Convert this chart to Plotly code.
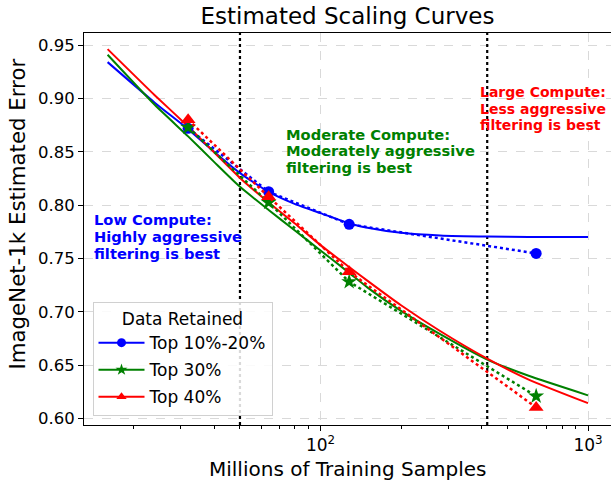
import plotly.graph_objects as go

# ---- data ----
sample_x = [32, 64, 128, 640]
top10_20_pts = [0.872, 0.8125, 0.782, 0.7547]
top30_pts = [0.8728, 0.8025, 0.7281, 0.6209]
top40_pts = [0.880, 0.8078, 0.7375, 0.6104]

curve_x = [16, 24, 32, 40, 50, 64, 80, 100, 128, 150, 200, 280, 420, 600, 1000]
blue_curve_y = [0.934, 0.896, 0.8712, 0.850, 0.830, 0.8124, 0.8012, 0.7925, 0.7828, 0.7788,
                0.7740, 0.7715, 0.7705, 0.7701, 0.7700]
green_curve_y = [0.9409, 0.894, 0.8644, 0.8405, 0.8171, 0.7954, 0.7764, 0.7575, 0.7365, 0.7227,
                 0.7008, 0.679, 0.6552, 0.640, 0.6217]
red_curve_y = [0.9462, 0.903, 0.8737, 0.8496, 0.8255, 0.8025, 0.783, 0.7625, 0.742, 0.729,
               0.7061, 0.682, 0.6561, 0.6365, 0.6144]

compute_bounds = [50, 420]

series_names = ["Top 10%-20%", "Top 30%", "Top 40%"]
series_colors = ["#0000ff", "#008000", "#ff0000"]
series_symbols = ["circle", "star", "triangle-up"]

y_ticks = [0.60, 0.65, 0.70, 0.75, 0.80, 0.85, 0.90, 0.95]
x_major = [100, 1000]
x_major_text = ["10<sup>2</sup>", "10<sup>3</sup>"]
x_minor = [20, 30, 40, 50, 60, 70, 80, 90, 200, 300, 400, 500, 600, 700, 800, 900]

y_range = [0.5939, 0.9613]
x_range_log = [1.1159, 3.086]

FONT = "DejaVu Sans"

fig = go.Figure()

# vertical dotted compute boundaries
for xb in compute_bounds:
    fig.add_trace(go.Scatter(x=[xb, xb], y=y_range, mode="lines",
                             line=dict(color="black", width=2.2, dash="dot"),
                             showlegend=False, hoverinfo="skip"))

curves_y = [blue_curve_y, green_curve_y, red_curve_y]
points = [top10_20_pts, top30_pts, top40_pts]
msizes = [11, 12, 13]

for i in range(3):
    fig.add_trace(go.Scatter(x=curve_x, y=curves_y[i], mode="lines",
                             line=dict(color=series_colors[i], width=2, shape="spline", smoothing=0.5),
                             showlegend=False, hoverinfo="skip"))
for i in range(3):
    fig.add_trace(go.Scatter(x=sample_x, y=points[i], mode="lines+markers",
                             line=dict(color=series_colors[i], width=2.5, dash="dot"),
                             marker=dict(symbol=series_symbols[i], size=msizes[i], color=series_colors[i],
                                         line=dict(width=0)),
                             showlegend=False))
# legend entries
for i in range(3):
    fig.add_trace(go.Scatter(x=[None], y=[None], mode="lines+markers", name=series_names[i],
                             legendgroup="g%d" % i,
                             line=dict(color=series_colors[i], width=2),
                             marker=dict(symbol=series_symbols[i], size=9, color=series_colors[i])))

L, R, T, B = 84, 0, 33, 59
W, H = 611, 484
pw, ph = W - L - R, H - T - B

def px(x):
    return (x - L) / pw

def py(y):
    return (H - B - y) / ph

annos = []
texts = [
    (["Low Compute:", "Highly aggressive", "filtering is best"], 92.7, [219.5, 236.5, 253.5], "#0000ff", 14.67),
    (["Moderate Compute:", "Moderately aggressive", "filtering is best"], 285, [134, 150.7, 167.4], "#008000", 14.67),
    (["Large Compute:", "Less aggressive", "filtering is best"], 479.3, [92, 108.7, 125.4], "#ff0000", 14.0),
]
for lines, x0, ys, col, fs in texts:
    for line, yy in zip(lines, ys):
        annos.append(dict(text="<b>" + line + "</b>", x=px(x0), y=py(yy), xref="paper", yref="paper",
                          xanchor="left", yanchor="middle", showarrow=False, borderpad=0,
                          font=dict(family=FONT, size=fs, color=col)))

# axis titles
annos.append(dict(text="Millions of Training Samples", x=0.5, y=py(469), xref="paper", yref="paper",
                  xanchor="center", yanchor="middle", showarrow=False,
                  font=dict(family=FONT, size=20, color="black")))
annos.append(dict(text="ImageNet-1k Estimated Error", x=px(16.5), y=py(214), xref="paper", yref="paper",
                  xanchor="center", yanchor="middle", showarrow=False, textangle=-90,
                  font=dict(family=FONT, size=21.3, color="black")))

fig.update_layout(
    width=W, height=H,
    margin=dict(l=L, r=R, t=T, b=B),
    paper_bgcolor="white", plot_bgcolor="white",
    font=dict(family=FONT, color="black"),
    title=dict(text="Estimated Scaling Curves", x=0.5, xref="paper", xanchor="center",
               y=1 - 16 / H, yref="container", yanchor="middle",
               font=dict(family=FONT, size=23, color="black")),
    annotations=annos,
    legend=dict(x=px(92.5), y=py(416), xanchor="left", yanchor="bottom",
                bgcolor="rgba(255,255,255,0.85)", bordercolor="#d0d0d0", borderwidth=1,
                font=dict(family=FONT, size=17, color="black"),
                title=dict(text="Data Retained", side="top center",
                           font=dict(family=FONT, size=17, color="black")),
                itemwidth=46, tracegroupgap=2),
    showlegend=True,
)

fig.update_xaxes(type="log", range=x_range_log,
                 tickmode="array", tickvals=x_major, ticktext=x_major_text,
                 ticks="outside", ticklen=5, tickwidth=1, tickcolor="black",
                 tickfont=dict(family=FONT, size=17, color="black"),
                 showline=True, linecolor="black", linewidth=1, mirror=True,
                 showgrid=True, gridcolor="#d9d9d9", griddash="dash", gridwidth=1,
                 zeroline=False,
                 minor=dict(tickmode="array", tickvals=x_minor, ticks="outside", ticklen=3,
                            tickwidth=1, tickcolor="black", showgrid=False))
fig.update_yaxes(range=y_range, tickmode="array", tickvals=y_ticks,
                 ticktext=[f"{v:.2f}" for v in y_ticks],
                 ticks="outside", ticklen=5, tickwidth=1, tickcolor="black",
                 tickfont=dict(family=FONT, size=16.5, color="black"),
                 showline=True, linecolor="black", linewidth=1, mirror=True,
                 showgrid=True, gridcolor="#d9d9d9", griddash="dash", gridwidth=1,
                 zeroline=False)

fig.write_html("out.html")
